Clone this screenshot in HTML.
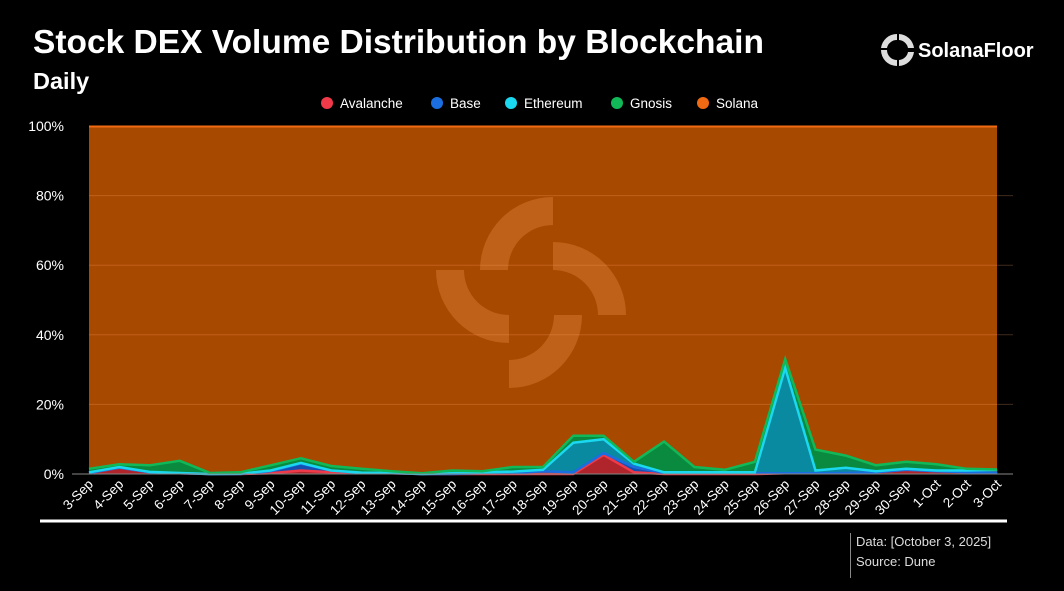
<!DOCTYPE html>
<html><head><meta charset="utf-8"><style>
body{margin:0;background:#000;width:1064px;height:586px;overflow:hidden;font-family:"Liberation Sans",sans-serif}
</style></head><body>
<svg id="s" width="1064" height="586" xmlns="http://www.w3.org/2000/svg" font-family="Liberation Sans, sans-serif">
<text x="33" y="53" fill="#fff" font-size="33.5" font-weight="bold">Stock DEX Volume Distribution by Blockchain</text>
<text x="33" y="89" fill="#fff" font-size="23.5" font-weight="bold">Daily</text>
<g fill="#fff" font-size="20" font-weight="bold"><text x="918" y="57">SolanaFloor</text></g>
<g fill="#ddd">
<path d="M881 50 A16 16 0 0 0 897 66 L897 60 A10 10 0 0 1 887 50Z"/>
<path d="M897 34 A16 16 0 0 0 881 48 L887 48 A10 10 0 0 1 897 40Z"/>
<path d="M899 34 A16 16 0 0 1 914 48 L908 48 A10 10 0 0 0 899 40Z"/>
<path d="M914 52 A16 16 0 0 1 899 66 L899 60 A10 10 0 0 0 908 52Z"/>
</g>
<g font-size="13.5" fill="#fff">
<circle cx="327" cy="103" r="6" fill="#f03a4a"/><text x="340" y="108">Avalanche</text>
<circle cx="437" cy="103" r="6" fill="#1b6ee0"/><text x="450" y="108">Base</text>
<circle cx="511" cy="103" r="6" fill="#1ad8f0"/><text x="524" y="108">Ethereum</text>
<circle cx="617" cy="103" r="6" fill="#10b858"/><text x="630" y="108">Gnosis</text>
<circle cx="703" cy="103" r="6" fill="#f06a14"/><text x="716" y="108">Solana</text>
</g>
<rect x="89" y="126" width="908" height="348" fill="#a84900"/>
<line x1="89" y1="126.5" x2="997" y2="126.5" stroke="#f06a14" stroke-width="2"/>
<g id="grid"></g>
<g fill="rgba(255,160,90,0.28)">
<path d="M480 270 A73 73 0 0 1 553 197 L553 225 A45 45 0 0 0 508 270Z"/>
<path d="M553 242 A73 73 0 0 1 626 315 L598 315 A45 45 0 0 0 553 270Z"/>
<path d="M582 315 A73 73 0 0 1 509 388 L509 360 A45 45 0 0 0 554 315Z"/>
<path d="M436 270 A73 73 0 0 0 509 343 L509 315 A45 45 0 0 1 464 270Z"/>
</g>
<g id="areas"></g>
<line x1="40" y1="521" x2="1007" y2="521" stroke="#fff" stroke-width="3"/>
<line x1="850.5" y1="533" x2="850.5" y2="578" stroke="#888" stroke-width="1"/>
<text x="856" y="546" fill="#ddd" font-size="13">Data: [October 3, 2025]</text>
<text x="856" y="566" fill="#ddd" font-size="13">Source: Dune</text>
</svg>
<script>
var NS="http://www.w3.org/2000/svg",s=document.getElementById('s');
function el(p,t,a,txt){var e=document.createElementNS(NS,t);for(var k in a)e.setAttribute(k,a[k]);if(txt)e.textContent=txt;p.appendChild(e);return e;}
var grid=document.getElementById('grid');
for(var i=0;i<=5;i++){var y=474-i*69.6;
 if(i>0&&i<5)el(grid,'line',{x1:89,x2:1013,y1:y,y2:y,stroke:'rgba(255,170,110,0.25)','stroke-width':1});
 el(s,'text',{x:64,y:y+5,fill:'#fff','font-size':14,'text-anchor':'end'},i*20+'%');}
el(s,'line',{x1:72,x2:1013,y1:474,y2:474,stroke:'#888','stroke-width':1});
var d=[[0.3,0.3,0.5,1.5],[1.8,1.8,2,2.8],[0.5,0.5,0.6,2.5],[0.2,0.2,0.3,3.8],[0,0,0,0.3],[0,0,0.1,0.5],[0.2,0.8,1,2.5],[1,3,3.2,4.5],[0.5,1,1,2.3],[0.3,0.3,0.4,1.5],[0.2,0.2,0.3,0.8],[0,0,0,0.2],[0,0,0.2,1],[0,0.2,0.5,0.8],[0,0.3,0.7,2],[0,0.8,1.2,2],[0,0.5,9,11],[5.5,6,10,11],[0.5,2,3,3.5],[0,0.3,0.5,9.3],[0,0.2,0.5,2],[0,0.2,0.5,1.2],[0,0.2,0.5,3.5],[0.2,0.2,30.5,33],[0.2,0.2,1,7],[0.2,0.3,1.8,5.3],[0.5,0.5,0.8,2.5],[1.2,1.2,1.5,3.5],[0.8,0.8,1,2.8],[0.5,0.5,1,1.5],[0.3,0.3,1.2,1.3]];
var X=function(i){return 89+i*30.27},Y=function(v){return 474-v*3.48};
var fills=['#b0252b','#1450b0','#0a8aa0','#0a8a3e'],strokes=['#f03a4a','#1b6ee0','#1ad8f0','#10b858'];
var ar=document.getElementById('areas');
for(var k=3;k>=0;k--){var pts=d.map(function(r,i){return X(i).toFixed(1)+','+Y(r[k]).toFixed(1)});
 el(ar,'path',{d:'M'+pts.join(' L')+' L'+X(30)+','+474+' L89,474Z',fill:fills[k]});}
for(var k=0;k<4;k++){var pts=d.map(function(r,i){return X(i).toFixed(1)+','+Y(r[k]).toFixed(1)});
 el(ar,'polyline',{points:pts.join(' '),fill:'none',stroke:strokes[k],'stroke-width':2.5});}
var lab=[];for(var i=3;i<=30;i++)lab.push(i+'-Sep');for(var i=1;i<=3;i++)lab.push(i+'-Oct');
lab.forEach(function(t,i){var x=X(i)+5,y=485;el(s,'text',{x:x,y:y,fill:'#fff','font-size':13.5,'text-anchor':'end',transform:'rotate(-45 '+x+' '+y+')'},t);});
</script>
</body></html>
